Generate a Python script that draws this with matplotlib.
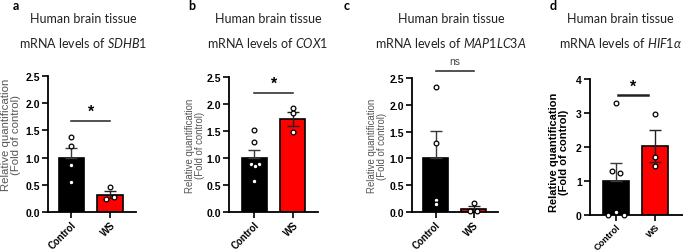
import matplotlib.pyplot as plt

plt.rcParams['font.family'] = ['Liberation Sans', 'DejaVu Sans']
plt.rcParams['mathtext.fontset'] = 'custom'
plt.rcParams['mathtext.rm'] = 'Lato'
plt.rcParams['mathtext.it'] = 'Lato:italic'

## data
groups = ['Control', 'WS']
genes = ['SDHB1', 'COX1', 'MAP1LC3A', 'HIF1α']
letters = ['a', 'b', 'c', 'd']

means_a = [1.0, 0.32]
sem_a = [0.18, 0.07]
ctrl_a = [1.37, 1.21, 0.86, 0.55]
ws_a = [0.46, 0.245, 0.27]

means_b = [1.0, 1.73]
sem_b = [0.14, 0.13]
ctrl_b = [1.51, 1.29, 0.89, 0.88, 0.85, 0.58]
ws_b = [1.92, 1.84, 1.49]

means_c = [1.0, 0.06]
sem_c = [0.52, 0.06]
ctrl_c = [2.33, 1.28, 0.22, 0.15]
ws_c = [0.17, 0.02, 0.02]

means_d = [1.0, 2.03]
sem_d = [0.52, 0.47]
ctrl_d = [3.3, 1.3, 1.23, 0.0, 0.09, 0.0]
ws_d = [2.96, 1.71, 1.45]

signif = ['*', '*', 'ns', '*']
sig_y = [1.67, 2.2, 2.63, 3.52]

# horizontal scatter of the dots (fraction of bar spacing)
jit_ctrl = [[0, 0, 0, 0], [0, 0, -0.1, 0.12, 0.02, 0], [0, 0, 0, 0],
            [0, -0.11, 0.1, -0.21, 0, 0.21]]
jit_ws = [[0, -0.11, 0.1], [0, 0, 0], [0, -0.1, 0.1], [0, 0, 0]]

means = [means_a, means_b, means_c, means_d]
sems = [sem_a, sem_b, sem_c, sem_d]
ctrls = [ctrl_a, ctrl_b, ctrl_c, ctrl_d]
wss = [ws_a, ws_b, ws_c, ws_d]

W, H = 683, 253
fig = plt.figure(figsize=(W / 100, H / 100), dpi=100)

# layout in pixels: left, right, top, bottom of axes
boxes = [(48, 136, 77, 213), (229, 318, 78, 213), (412, 498, 79, 213), (590, 683, 80, 216)]
xlims = [(-0.6, 1.67), (-0.66, 1.65), (-0.62, 1.64), (-0.67, 1.72)]
title_x = [83, 268, 451, 620]
letter_x = [16, 192, 347, 553]
ylab = [(-37, 0.574, 8.2, 'normal', '#555555'), (-34, 0.5, 6.9, 'normal', '#555555'),
        (-35, 0.5, 6.9, 'normal', '#555555'), (-31, 0.47, 8.0, 'bold', 'black')]

for i in range(4):
    l, r, t, b = boxes[i]
    ax = fig.add_axes([l / W, 1 - b / H, (r - l) / W, (b - t) / H])
    ax.bar([0, 1], means[i], width=0.65, color=['black', '#ff0000'],
           edgecolor='black', linewidth=1.2, zorder=1)
    # control: only the upper whisker shows on the black bar
    ax.errorbar([0], [means[i][0]], yerr=[[0], [sems[i][0]]], fmt='none',
                ecolor='#3a3a3a', elinewidth=1.0, capsize=4, capthick=1.0, zorder=2)
    ax.errorbar([1], [means[i][1]], yerr=[sems[i][1]], fmt='none',
                ecolor='#222222', elinewidth=1.0, capsize=4, capthick=1.0, zorder=2)
    ax.plot([0 + j for j in jit_ctrl[i]], ctrls[i], 'o', ms=3.4, mfc='white',
            mec='black', mew=0.9, zorder=3, clip_on=False)
    ax.plot([1 + j for j in jit_ws[i]], wss[i], 'o', ms=3.4, mfc='white',
            mec='black', mew=0.9, zorder=3, clip_on=False)

    ax.set_xlim(*xlims[i])
    if i == 3:
        ax.set_ylim(0, 4)
        ax.set_yticks([0, 1, 2, 3, 4])
        ax.set_yticklabels(['0', '1', '2', '3', '4'])
        step = 0.25
    else:
        ax.set_ylim(0, 2.5)
        ax.set_yticks([0, 0.5, 1.0, 1.5, 2.0, 2.5])
        ax.set_yticklabels(['0.0', '0.5', '1.0', '1.5', '2.0', '2.5'])
        step = 0.18
    ax.set_xticks([0, 1])
    ax.set_xticklabels(groups, rotation=45, ha='right', rotation_mode='anchor',
                       fontweight='bold', fontsize=6.6 if i == 3 else 6.9)
    for lab in ax.get_yticklabels():
        lab.set_fontweight('bold')
        lab.set_fontsize(7.5)
    ax.tick_params(length=4, width=1.2, pad=2)
    ax.tick_params(axis='x', pad=1)
    for s in ['top', 'right']:
        ax.spines[s].set_visible(False)
    for s in ['left', 'bottom']:
        ax.spines[s].set_linewidth(1.3)

    ax.set_ylabel('Relative quantification\n(Fold of control)', fontsize=ylab[i][2],
                  fontweight=ylab[i][3], color=ylab[i][4], va='center', linespacing=1.1)
    ax.yaxis.set_label_coords(ylab[i][0] / (r - l), ylab[i][1])

    # significance bar
    x0, x1 = (0.05, 0.82) if i == 3 else (0, 1)
    ax.plot([x0, x1], [sig_y[i]] * 2, color='#222222', lw=1.8 if i == 3 else 1.1,
            clip_on=False)
    if signif[i] == 'ns':
        ax.text(0.5, sig_y[i] + step * 0.5, 'ns', ha='center', va='bottom',
                fontsize=7.5, color='#444444')
    else:
        ax.text((x0 + x1) / 2, sig_y[i] + step * 0.2, '*', ha='center', va='bottom',
                fontsize=11.5, fontweight='bold')

    fig.text(title_x[i] / W, 1 - 19 / H, 'Human brain tissue', ha='center',
             va='center', family='Lato', fontsize=9, color='#222222')
    fig.text(title_x[i] / W, 1 - 43 / H, 'mRNA levels of $\\mathit{' + genes[i] + '}$',
             ha='center', va='center', family='Lato', fontsize=9, color='#222222')
    fig.text(letter_x[i] / W, 1 - 6 / H, letters[i], ha='center', va='center',
             family='Lato', fontweight='bold', fontsize=9)

fig.savefig('out.png', dpi=100)
